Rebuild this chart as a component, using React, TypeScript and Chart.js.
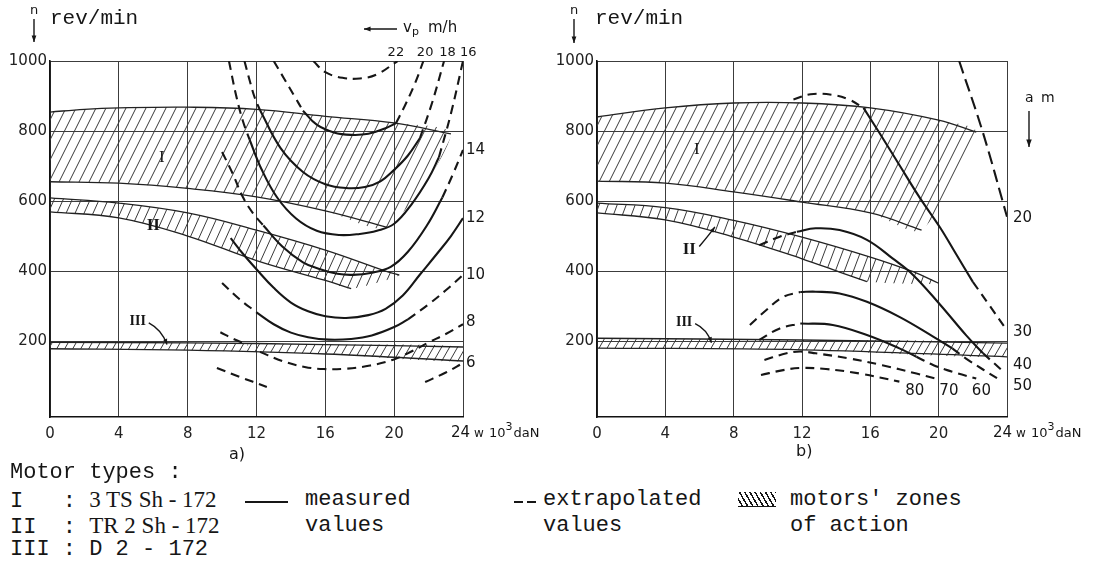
import React, { useEffect, useRef } from "react";
import { Chart, registerables } from "chart.js";

Chart.register(...registerables);

type Pt = [number, number];

// ---------------- shared axes ----------------
const X_TICKS = [0, 4, 8, 12, 16, 20, 24];
const Y_TICKS = [200, 400, 600, 800, 1000];

// ---------------- panel a) : motor zones ----------------
const aZoneIUpper: Pt[] = [[0, 854], [2, 862], [4, 866], [8, 868], [12, 862], [16, 842], [20, 823], [23.3, 792]];
const aZoneILower: Pt[] = [[0, 655], [4, 651], [8, 636], [12, 612], [16, 572], [19.6, 525]];
const aZoneIIUpper: Pt[] = [[0, 609], [4, 594], [8, 566], [12, 517], [16, 460], [19.5, 400], [20.3, 388]];
const aZoneIILower: Pt[] = [[0, 569], [4, 552], [8, 500], [12, 430], [16, 373], [17.5, 350]];
const aZoneIIIUpper: Pt[] = [[0, 196], [8, 195], [16, 190], [24, 183]];
const aZoneIIILower: Pt[] = [[0, 178], [8, 174], [16, 163], [24, 143]];

// ---------------- panel a) : vp curves (m/h) ----------------
const aV22Dash: Pt[] = [[15.3, 1000], [16, 968], [17, 952], [18, 950], [19, 962], [20.2, 1000]];
const aV20DashL: Pt[] = [[13, 1000], [13.6, 950], [14.2, 900], [14.7, 858]];
const aV20Solid: Pt[] = [[14.7, 858], [15.5, 818], [16.5, 796], [17.5, 789], [18.5, 792], [19.5, 808], [20.1, 822]];
const aV20DashR: Pt[] = [[20.1, 822], [20.6, 870], [21.2, 935], [21.7, 1000]];
const aV18DashL: Pt[] = [[11.3, 1000], [11.6, 945], [11.9, 895], [12.2, 860]];
const aV18Solid: Pt[] = [[12.2, 860], [13.4, 751], [14.7, 683], [16, 648], [17.2, 637], [18.3, 640], [19.2, 656], [20, 689], [20.8, 730], [21.5, 780]];
const aV18DashR: Pt[] = [[21.5, 780], [22.2, 880], [22.9, 1000]];
const aV16DashL: Pt[] = [[10.4, 1000], [10.8, 905], [11.2, 830], [11.6, 775]];
const aV16Solid: Pt[] = [[11.6, 775], [12.3, 690], [13.2, 610], [14.3, 550], [15.5, 515], [16.8, 503], [18, 506], [19, 515], [20, 535], [21, 590], [22, 665], [22.6, 725]];
const aV16DashR: Pt[] = [[22.6, 725], [23.3, 850], [24, 1000]];
const aV14DashL: Pt[] = [[10, 740], [10.6, 680], [11.2, 612], [11.8, 565], [12.4, 530]];
const aV14Solid: Pt[] = [[12.4, 530], [13.5, 470], [14.7, 425], [15.7, 405], [16.7, 392], [17.6, 389], [18.7, 395], [19.8, 412], [20.8, 455], [21.9, 530], [22.8, 610]];
const aV14DashR: Pt[] = [[22.8, 610], [23.4, 675], [24, 746]];
const aV12Solid: Pt[] = [[10.5, 494], [11.2, 450], [12, 405], [13, 352], [14, 310], [15, 285], [16, 271], [17.2, 266], [18.5, 274], [19.5, 292], [20.5, 330], [21.5, 390], [22.5, 450], [23.3, 500], [24, 551]];
const aV10DashL: Pt[] = [[10, 366], [11, 320], [12, 282]];
const aV10Solid: Pt[] = [[12, 282], [13, 248], [14, 224], [15, 211], [16.2, 204], [17.5, 206], [18.7, 216], [20, 240], [20.8, 262]];
const aV10DashR: Pt[] = [[20.8, 262], [22, 305], [23, 345], [24, 389]];
const aV8DashL: Pt[] = [[9.9, 225], [10.7, 205], [11.5, 189]];
const aV8Dash: Pt[] = [[12.2, 169], [13.5, 143], [14.8, 126], [15.9, 120], [17.2, 121], [18.6, 130], [19.9, 146], [21, 170], [22, 196], [23, 220], [24, 248]];
const aV6DashL: Pt[] = [[9.7, 123], [11, 98], [12.6, 69]];
const aV6DashR: Pt[] = [[21.8, 83], [23, 110], [24, 137]];

const aTopLabels = ["22", "20", "18", "16"];
const aTopLabelX = [20.1, 21.8, 23.1, 24.3];
const aRightLabels = ["14", "12", "10", "8", "6"];
const aRightLabelY = [746, 551, 389, 254, 137];

// ---------------- panel b) : motor zones ----------------
const bZoneIUpper: Pt[] = [[0, 840], [4, 866], [8, 880], [12, 880], [16, 866], [20, 831], [22.2, 797]];
const bZoneILower: Pt[] = [[0, 657], [4, 651], [8, 626], [12, 597], [16, 566], [19, 517]];
const bZoneIIUpper: Pt[] = [[0, 594], [4, 581], [8, 545], [12, 497], [16, 440], [18.5, 398], [20, 365]];
const bZoneIILower: Pt[] = [[0, 566], [4, 546], [8, 497], [12, 435], [14.2, 397], [15.8, 370]];
const bZoneIIIUpper: Pt[] = [[0, 208], [12, 203], [24, 194]];
const bZoneIIILower: Pt[] = [[0, 180], [12, 175], [24, 155]];

// ---------------- panel b) : a curves (m) ----------------
const bA20Dash: Pt[] = [[21.2, 1000], [22.6, 794], [24, 555]];
const bA30DashL: Pt[] = [[11.5, 890], [12.5, 905], [13.8, 903], [14.8, 889], [15.6, 866]];
const bA30Solid: Pt[] = [[15.6, 866], [16.5, 797], [17.7, 703], [18.9, 609], [20.1, 523], [21, 450], [22, 369]];
const bA30DashR: Pt[] = [[22, 369], [23, 300], [23.9, 237]];
const bA40DashL: Pt[] = [[9.5, 474], [10.7, 498], [11.7, 512]];
const bA40Solid: Pt[] = [[11.7, 512], [12.8, 522], [14.2, 517], [15.8, 489], [17.3, 436], [18.5, 389], [20.1, 303], [21.6, 217], [22.6, 165]];
const bA40DashR: Pt[] = [[22.6, 165], [23.8, 112]];
const bA50DashL: Pt[] = [[8.95, 246], [9.9, 288], [10.9, 326], [11.9, 340]];
const bA50Solid: Pt[] = [[11.9, 340], [12.8, 341], [14.2, 336], [15.8, 312], [17.7, 269], [19.7, 212], [20.8, 179]];
const bA50DashR: Pt[] = [[20.8, 179], [21.6, 150], [23.6, 88]];
const bA60DashL: Pt[] = [[9.5, 203], [10.7, 236], [11.9, 250]];
const bA60Solid: Pt[] = [[11.9, 250], [13.8, 246], [15.8, 217], [17.7, 179], [18.7, 155]];
const bA60DashR: Pt[] = [[18.7, 155], [19.7, 131], [20.8, 112], [22.2, 93]];
const bA70Dash: Pt[] = [[9.8, 146], [11.1, 165], [11.9, 170], [12.8, 165], [14.8, 150], [16.7, 131], [18.7, 107], [19.8, 93]];
const bA80Dash: Pt[] = [[9.6, 103], [10.9, 117], [11.9, 123], [13.4, 120], [15.4, 107], [17.7, 84]];

const bRightLabels = ["20", "30", "40", "50"];
const bRightLabelY = [551, 226, 131, 71];
const bBottomLabels = ["80", "70", "60"];
const bBottomLabelX = [18.6, 20.6, 22.5];
const bBottomLabelY = 57;

// ---------------- helpers ----------------
const SANS = '"DejaVu Sans", sans-serif';
const MONO = '"Liberation Mono", "DejaVu Sans Mono", monospace';
const SERIF = '"Liberation Serif", "DejaVu Serif", serif';
const INK = "#161616";

const pts = (a: Pt[]) => a.map(([x, y]) => ({ x, y }));

function makeHatch(w: number, h: number): CanvasPattern | string {
  const c = document.createElement("canvas");
  c.width = w;
  c.height = h;
  const g = c.getContext("2d");
  if (!g) return "rgba(0,0,0,0.2)";
  g.strokeStyle = "#3a3a3a";
  g.lineWidth = 1;
  for (const off of [-w, 0, w]) {
    g.beginPath();
    g.moveTo(off, h);
    g.lineTo(off + w, 0);
    g.stroke();
  }
  return g.createPattern(c, "repeat") || "rgba(0,0,0,0.2)";
}

function curve(a: Pt[], dashed: boolean) {
  return {
    data: pts(a),
    borderColor: INK,
    borderWidth: 2.1,
    borderDash: dashed ? [9, 6] : [],
    pointRadius: 0,
    fill: false,
    tension: 0.4,
    order: 1,
  };
}

function zone(upper: Pt[], lower: Pt[], pattern: any) {
  const poly = [...upper, ...[...lower].reverse()];
  return [
    { data: pts(poly), borderWidth: 0, borderColor: "rgba(0,0,0,0)", backgroundColor: pattern, fill: "shape", pointRadius: 0, tension: 0.25, order: 5 },
    { data: pts(upper), borderColor: "#222", borderWidth: 1.3, pointRadius: 0, fill: false, tension: 0.4, order: 2 },
    { data: pts(lower), borderColor: "#222", borderWidth: 1.3, pointRadius: 0, fill: false, tension: 0.4, order: 2 },
  ];
}

function text(ctx: CanvasRenderingContext2D, s: string, x: number, y: number, font: string, align: CanvasTextAlign = "left", base: CanvasTextBaseline = "middle") {
  ctx.font = font;
  ctx.textAlign = align;
  ctx.textBaseline = base;
  ctx.fillStyle = INK;
  ctx.fillText(s, x, y);
}

function arrow(ctx: CanvasRenderingContext2D, x1: number, y1: number, x2: number, y2: number, bend = 0, head = 6) {
  ctx.save();
  ctx.strokeStyle = INK;
  ctx.fillStyle = INK;
  ctx.lineWidth = 1.4;
  const mx = (x1 + x2) / 2 + bend;
  const my = (y1 + y2) / 2 - bend;
  ctx.beginPath();
  ctx.moveTo(x1, y1);
  ctx.quadraticCurveTo(mx, my, x2, y2);
  ctx.stroke();
  const ang = Math.atan2(y2 - my, x2 - mx);
  ctx.beginPath();
  ctx.moveTo(x2, y2);
  ctx.lineTo(x2 - head * Math.cos(ang - 0.35), y2 - head * Math.sin(ang - 0.35));
  ctx.lineTo(x2 - head * Math.cos(ang + 0.35), y2 - head * Math.sin(ang + 0.35));
  ctx.closePath();
  ctx.fill();
  ctx.restore();
}

function wUnit(ctx: CanvasRenderingContext2D, x0: number, y: number) {
  ctx.fillStyle = INK;
  ctx.textBaseline = "alphabetic";
  ctx.textAlign = "left";
  let x = x0;
  ctx.font = `15px ${SANS}`;
  ctx.fillText("24", x, y);
  x += ctx.measureText("24").width + 4;
  ctx.font = `12px ${SANS}`;
  ctx.fillText("w", x, y);
  x += ctx.measureText("w").width + 5;
  ctx.font = `13px ${SANS}`;
  ctx.fillText("10", x, y);
  x += ctx.measureText("10").width;
  ctx.font = `11px ${SANS}`;
  ctx.fillText("3", x, y - 7);
  x += ctx.measureText("3").width + 1;
  ctx.font = `13px ${SANS}`;
  ctx.fillText("daN", x, y);
}

function baseOptions(yWidth: number, rightPad: number) {
  return {
    responsive: false,
    animation: false as const,
    devicePixelRatio: 1,
    events: [] as any[],
    layout: { padding: { top: 61, left: 0, right: rightPad, bottom: 25 } },
    plugins: { legend: { display: false }, tooltip: { enabled: false } },
    scales: {
      x: {
        type: "linear" as const,
        min: 0,
        max: 24,
        afterBuildTicks: (s: any) => { s.ticks = X_TICKS.map((v) => ({ value: v })); },
        afterFit: (s: any) => { s.height = 28; },
        grid: { color: "#3c3c3c", lineWidth: 1, drawTicks: false, tickLength: 0 },
        border: { display: true, color: "#111", width: 1.6 },
        ticks: {
          padding: 8,
          maxRotation: 0,
          autoSkip: false,
          color: "#222",
          font: { family: SANS, size: 15 },
          callback: (v: any) => (v === 24 ? "" : String(v)),
        },
      },
      y: {
        type: "linear" as const,
        min: -17,
        max: 1000,
        afterBuildTicks: (s: any) => { s.ticks = Y_TICKS.map((v) => ({ value: v })); },
        afterFit: (s: any) => { s.width = yWidth; },
        grid: { color: "#3c3c3c", lineWidth: 1, drawTicks: false, tickLength: 0 },
        border: { display: true, color: "#111", width: 1.6 },
        ticks: { padding: 3, color: "#222", font: { family: SANS, size: 15 }, callback: (v: any) => String(v) },
      },
    },
  };
}

function notesPlugin(draw: (c: any) => void) {
  return {
    id: "notes",
    afterDraw(chart: any) {
      const ctx = chart.ctx as CanvasRenderingContext2D;
      ctx.save();
      draw(chart);
      ctx.restore();
    },
  };
}

function configA() {
  const hI = makeHatch(10, 20);
  const hII = makeHatch(9, 20);
  const hIII = makeHatch(8, 14);
  const datasets: any[] = [
    ...zone(aZoneIUpper, aZoneILower, hI),
    ...zone(aZoneIIUpper, aZoneIILower, hII),
    ...zone(aZoneIIIUpper, aZoneIIILower, hIII),
    curve(aV22Dash, true),
    curve(aV20DashL, true), curve(aV20Solid, false), curve(aV20DashR, true),
    curve(aV18DashL, true), curve(aV18Solid, false), curve(aV18DashR, true),
    curve(aV16DashL, true), curve(aV16Solid, false), curve(aV16DashR, true),
    curve(aV14DashL, true), curve(aV14Solid, false), curve(aV14DashR, true),
    curve(aV12Solid, false),
    curve(aV10DashL, true), curve(aV10Solid, false), curve(aV10DashR, true),
    curve(aV8DashL, true), curve(aV8Dash, true),
    curve(aV6DashL, true), curve(aV6DashR, true),
  ];
  const draw = (chart: any) => {
    const ctx = chart.ctx as CanvasRenderingContext2D;
    const ca = chart.chartArea;
    const X = (v: number) => chart.scales.x.getPixelForValue(v);
    const Y = (v: number) => chart.scales.y.getPixelForValue(v);
    // axis title
    text(ctx, "n", 34, 11, `13px ${SANS}`, "center");
    arrow(ctx, 34, 19, 34, 42, 0, 7);
    text(ctx, "rev/min", 50, 18, `21px ${MONO}`);
    // vp title
    arrow(ctx, 397, 29, 364, 29, 0, 7);
    text(ctx, "v", 403, 28, `15px ${SANS}`);
    text(ctx, "p", 412, 32, `11px ${SANS}`);
    text(ctx, "m/h", 428, 28, `15px ${SANS}`);
    aTopLabels.forEach((s, i) => text(ctx, s, X(aTopLabelX[i]), ca.top - 8, `13px ${SANS}`, "center"));
    aRightLabels.forEach((s, i) => text(ctx, s, ca.right + 3, Y(aRightLabelY[i]), `15px ${SANS}`));
    // zone labels
    text(ctx, "I", X(6.5), Y(723), `17px ${SERIF}`, "center");
    text(ctx, "II", X(6), Y(531), `bold 17px ${SERIF}`, "center");
    text(ctx, "III", X(5.1), Y(256), `bold 14px ${SERIF}`, "center");
    arrow(ctx, X(5.1) + 11, Y(252), X(6.8), Y(190), 4, 6);
    wUnit(ctx, X(24) - 12, ca.bottom + 20);
  };
  return {
    type: "line" as const,
    data: { datasets },
    options: baseOptions(50, 97),
    plugins: [notesPlugin(draw)],
  };
}

function configB() {
  const hI = makeHatch(10, 20);
  const hII = makeHatch(9, 24);
  const hIII = makeHatch(8, 14);
  const datasets: any[] = [
    ...zone(bZoneIUpper, bZoneILower, hI),
    ...zone(bZoneIIUpper, bZoneIILower, hII),
    ...zone(bZoneIIIUpper, bZoneIIILower, hIII),
    { ...curve(bA20Dash, true), borderDash: [13, 6] },
    curve(bA30DashL, true), curve(bA30Solid, false), curve(bA30DashR, true),
    curve(bA40DashL, true), curve(bA40Solid, false), curve(bA40DashR, true),
    curve(bA50DashL, true), curve(bA50Solid, false), curve(bA50DashR, true),
    curve(bA60DashL, true), curve(bA60Solid, false), curve(bA60DashR, true),
    curve(bA70Dash, true),
    curve(bA80Dash, true),
  ];
  const draw = (chart: any) => {
    const ctx = chart.ctx as CanvasRenderingContext2D;
    const ca = chart.chartArea;
    const X = (v: number) => chart.scales.x.getPixelForValue(v);
    const Y = (v: number) => chart.scales.y.getPixelForValue(v);
    text(ctx, "n", 24, 11, `13px ${SANS}`, "center");
    arrow(ctx, 24, 19, 24, 43, 0, 7);
    text(ctx, "rev/min", 45, 18, `21px ${MONO}`);
    // a m title
    text(ctx, "a", ca.right + 18, 98, `14px ${SANS}`);
    text(ctx, "m", ca.right + 34, 98, `14px ${SANS}`);
    arrow(ctx, ca.right + 22, 111, ca.right + 22, 147, 0, 8);
    bRightLabels.forEach((s, i) => text(ctx, s, ca.right + 6, Y(bRightLabelY[i]), `15px ${SANS}`));
    bBottomLabels.forEach((s, i) => text(ctx, s, X(bBottomLabelX[i]), Y(bBottomLabelY), `15px ${SANS}`, "center"));
    text(ctx, "I", X(5.85), Y(746), `17px ${SERIF}`, "center");
    text(ctx, "II", X(5.4), Y(462), `bold 17px ${SERIF}`, "center");
    arrow(ctx, X(5.4) + 10, Y(470), X(6.9), Y(526), 3, 6);
    text(ctx, "III", X(5.1), Y(253), `bold 14px ${SERIF}`, "center");
    arrow(ctx, X(5.1) + 11, Y(250), X(6.7), Y(195), 4, 6);
    wUnit(ctx, X(24) - 14, ca.bottom + 20);
  };
  return {
    type: "line" as const,
    data: { datasets },
    options: baseOptions(47, 93),
    plugins: [notesPlugin(draw)],
  };
}

function Panel({ left, width, height, build }: { left: number; width: number; height: number; build: () => any }) {
  const ref = useRef<HTMLCanvasElement>(null);
  useEffect(() => {
    if (!ref.current) return;
    const chart = new Chart(ref.current, build());
    return () => chart.destroy();
  }, []);
  return (
    <canvas
      ref={ref}
      width={width}
      height={height}
      style={{ position: "absolute", left, top: 0, width, height }}
    />
  );
}

const monoRow = { position: "absolute" as const, font: `22px ${MONO}`, lineHeight: "26px", whiteSpace: "pre" as const, color: INK };
const serifSpan = { font: `23px ${SERIF}` };

export default function App() {
  return (
    <div style={{ position: "absolute", left: 0, top: 0, width: 1100, height: 563, background: "#fff", overflow: "hidden" }}>
      <Panel left={0} width={560} height={470} build={configA} />
      <Panel left={550} width={550} height={470} build={configB} />
      <div style={{ position: "absolute", left: 229, top: 444, font: `16px ${SANS}`, color: INK }}>a)</div>
      <div style={{ position: "absolute", left: 796, top: 441, font: `16px ${SANS}`, color: INK }}>b)</div>

      <div style={{ ...monoRow, left: 10, top: 460 }}>Motor types :</div>
      <div style={{ ...monoRow, left: 10, top: 487 }}>I   : <span style={serifSpan}>3 TS Sh - 172</span></div>
      <div style={{ ...monoRow, left: 10, top: 513 }}>II  : <span style={serifSpan}>TR 2 Sh - 172</span></div>
      <div style={{ ...monoRow, left: 10, top: 537 }}>III : D 2 - 172</div>

      <div style={{ position: "absolute", left: 245, top: 501, width: 43, height: 0, borderTop: `2px solid ${INK}` }} />
      <div style={{ ...monoRow, left: 305, top: 487 }}>measured</div>
      <div style={{ ...monoRow, left: 305, top: 513 }}>values</div>

      <div style={{ position: "absolute", left: 514, top: 501, width: 9, height: 0, borderTop: `2px solid ${INK}` }} />
      <div style={{ position: "absolute", left: 527, top: 501, width: 9, height: 0, borderTop: `2px solid ${INK}` }} />
      <div style={{ ...monoRow, left: 543, top: 487 }}>extrapolated</div>
      <div style={{ ...monoRow, left: 543, top: 513 }}>values</div>

      <div
        style={{
          position: "absolute",
          left: 738,
          top: 492,
          width: 38,
          height: 14,
          borderBottom: `1.5px solid ${INK}`,
          background: `repeating-linear-gradient(60deg, transparent 0px, transparent 3px, ${INK} 3px, ${INK} 4.5px)`,
        }}
      />
      <div style={{ ...monoRow, left: 790, top: 487 }}>motors' zones</div>
      <div style={{ ...monoRow, left: 790, top: 513 }}>of action</div>
    </div>
  );
}
